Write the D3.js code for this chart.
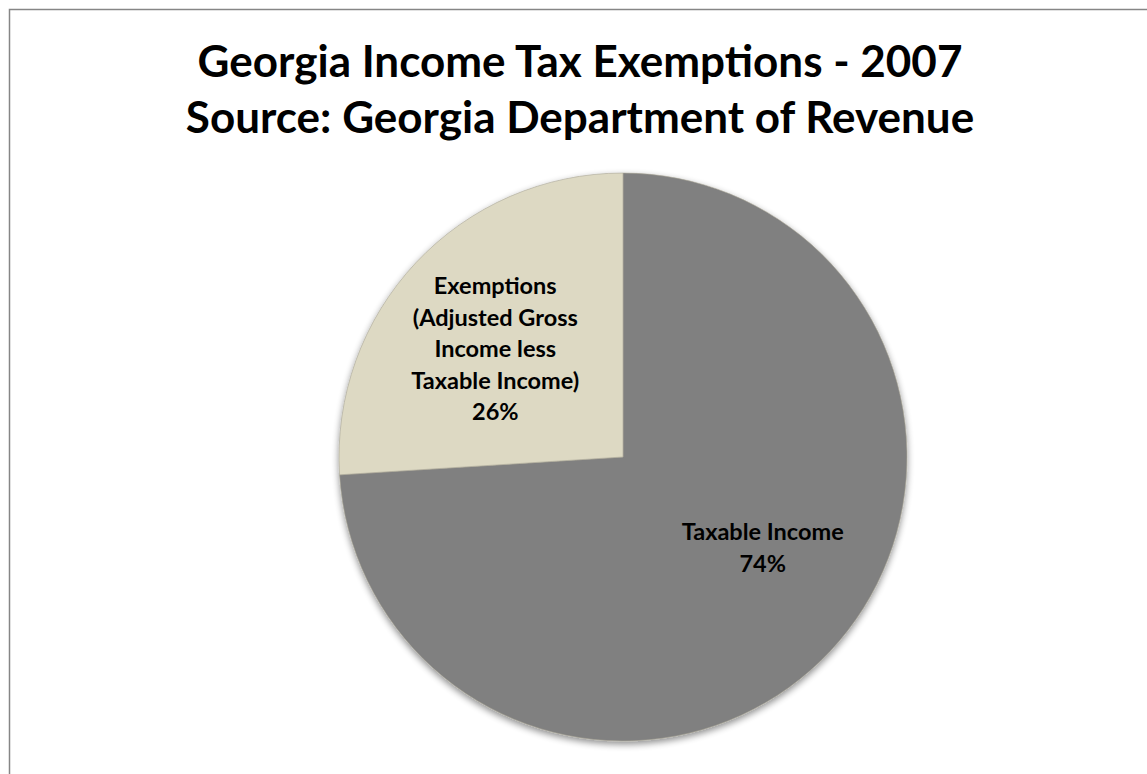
<!DOCTYPE html>
<html>
<head>
<meta charset="utf-8">
<script src="https://cdn.jsdelivr.net/npm/d3@7"></script>
<style>
  html, body { margin: 0; padding: 0; background: #fff; }
  svg { display: block; }
</style>
</head>
<body>
<svg id="chart" width="1147" height="774"></svg>
<script>
// Georgia income tax: share of adjusted gross income that is taxable vs. exempt (2007)
const categories = ["Taxable Income", "Exemptions"];
const labelLines = [
  ["Taxable Income"],
  ["Exemptions", "(Adjusted Gross", "Income less", "Taxable Income)"]
];
const shares = [74, 26];
const sliceColors = ["#808080", "#ddd9c3"];
const titleLines = [
  "Georgia Income Tax Exemptions - 2007",
  "Source: Georgia Department of Revenue"
];

const W = 1147, H = 774;
const svg = d3.select("#chart");

// chart frame
svg.append("rect")
  .attr("x", 9.5).attr("y", 9.5)
  .attr("width", W + 20).attr("height", H + 20)
  .attr("fill", "#fff")
  .attr("stroke", "#868686")
  .attr("stroke-width", 1.5);

// title
const title = svg.append("text")
  .attr("text-anchor", "middle")
  .attr("font-family", "Lato, 'Open Sans', sans-serif")
  .attr("font-weight", "bold")
  .attr("font-size", 44)
  .attr("fill", "#000");
titleLines.forEach((t, i) => {
  title.append("tspan")
    .attr("x", 580)
    .attr("y", 77 + i * 56)
    .text(t);
});

// pie
const cx = 623, cy = 457, r = 284;
const defs = svg.append("defs");
const shadow = defs.append("filter").attr("id", "pieShadow")
  .attr("x", "-10%").attr("y", "-10%").attr("width", "120%").attr("height", "120%");
shadow.append("feGaussianBlur").attr("in", "SourceAlpha").attr("stdDeviation", 3.5);
shadow.append("feOffset").attr("dx", 0).attr("dy", 3).attr("result", "blur");
shadow.append("feComponentTransfer").append("feFuncA").attr("type", "linear").attr("slope", 0.45);
const merge = shadow.append("feMerge");
merge.append("feMergeNode");
merge.append("feMergeNode").attr("in", "SourceGraphic");

const pie = d3.pie().sort(null).value(d => d.value);
const arcs = pie(categories.map((c, i) => ({ name: c, value: shares[i], lines: labelLines[i], color: sliceColors[i] })));
const arc = d3.arc().innerRadius(0).outerRadius(r);

const g = svg.append("g").attr("transform", `translate(${cx},${cy})`);
g.append("g").attr("filter", "url(#pieShadow)")
  .selectAll("path")
  .data(arcs)
  .join("path")
  .attr("d", arc)
  .attr("fill", d => d.data.color)
  .attr("stroke", "#a9a697")
  .attr("stroke-width", 0.6);

// data labels placed along each slice's bisector
const labelArc = d3.arc().innerRadius(167).outerRadius(167);
const nudges = [[18, -24], [-6, 6]];
const lineH = 31.5;
const labels = g.selectAll("text.lbl")
  .data(arcs)
  .join("text")
  .attr("class", "lbl")
  .attr("text-anchor", "middle")
  .attr("font-family", "Lato, 'Open Sans', sans-serif")
  .attr("font-weight", "bold")
  .attr("font-size", 23.5)
  .attr("fill", "#000");
labels.each(function (d, i) {
  const [x, y] = labelArc.centroid(d);
  const lines = d.data.lines.concat([d3.format(".0f")(d.data.value) + "%"]);
  const x0 = x + nudges[i][0];
  const y0 = y + nudges[i][1] - (lines.length - 1) * lineH / 2 + 8.5;
  d3.select(this).selectAll("tspan")
    .data(lines)
    .join("tspan")
    .attr("x", x0)
    .attr("y", (l, k) => y0 + k * lineH)
    .text(l => l);
});
</script>
</body>
</html>
